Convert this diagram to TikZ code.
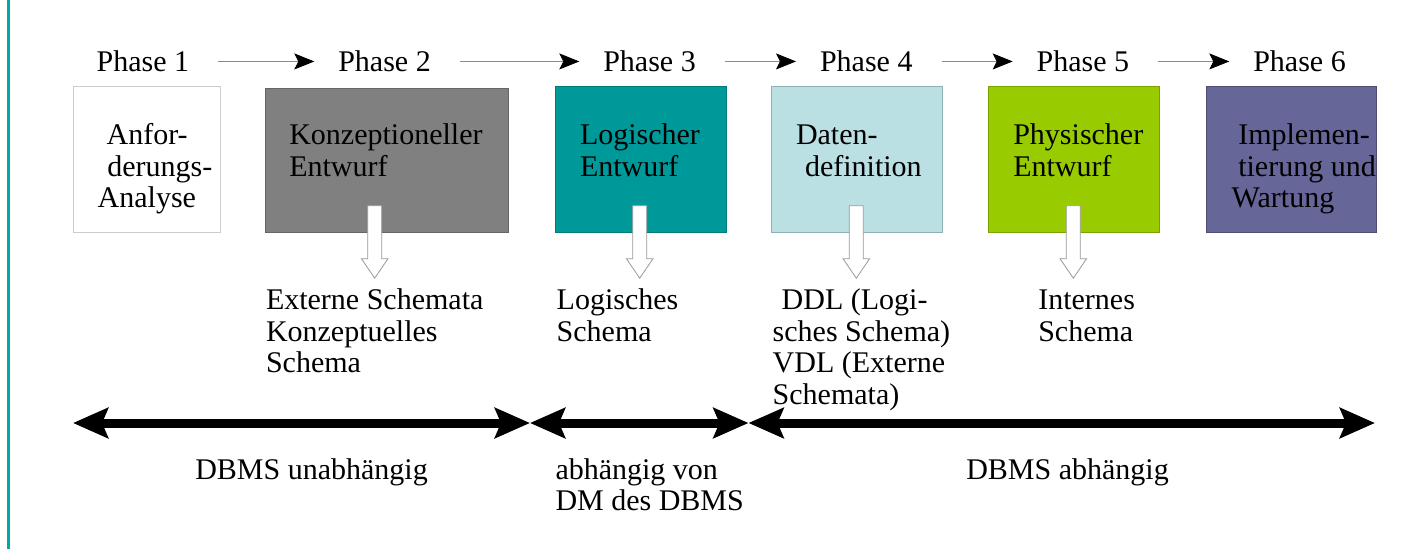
\documentclass[tikz,border=0pt]{standalone}
\usepackage{fontspec}
\setmainfont{Liberation Serif}
\usetikzlibrary{arrows.meta}
\newcommand\txtblock[1]{\begin{tabular}[t]{@{}l@{}}#1\end{tabular}}
\definecolor{tealbar}{HTML}{00A8A8}
\definecolor{fillB}{HTML}{808080}\definecolor{drawB}{HTML}{666666}
\definecolor{fillC}{HTML}{009999}\definecolor{drawC}{HTML}{007A7A}
\definecolor{fillD}{HTML}{BBE0E3}\definecolor{drawD}{HTML}{8FB0B5}
\definecolor{fillE}{HTML}{99CC00}\definecolor{drawE}{HTML}{7AA300}
\definecolor{fillF}{HTML}{666699}\definecolor{drawF}{HTML}{4D4D73}
\begin{document}
\begin{tikzpicture}[x=1pt,y=-1pt,
  every node/.style={inner sep=0pt,outer sep=0pt,font=\fontsize{30}{31.5}\selectfont},
  txt/.style={anchor=base west},
  phbox/.style={draw,line width=1pt},
  smallarrow/.style={draw=black!45,line width=0.8pt,-{Stealth[length=20pt,width=16pt,inset=4pt,black]},shorten <=29pt,shorten >=24pt},
  bigarrow/.style={line width=9pt,{Stealth[length=35pt,width=30pt,inset=6pt]}-{Stealth[length=35pt,width=30pt,inset=6pt]}},
  hollow/.style={draw=gray!80,fill=white,line width=0.8pt}]
\useasboundingbox (0,0) rectangle (1405,549);
\fill[white] (0,0) rectangle (1405,549);
\draw[tealbar,line width=3.4pt] (8.4,0) -- (8.4,549);

% boxes
\draw[phbox,draw=black!20,fill=white] (73.3,86) rectangle (220,232);
\draw[phbox,draw=drawB,fill=fillB] (265,88) rectangle (508.7,232);
\draw[phbox,draw=drawC,fill=fillC] (555,86.5) rectangle (726.7,232.5);
\draw[phbox,draw=drawD,fill=fillD] (771,86.5) rectangle (942.7,232.5);
\draw[phbox,draw=drawE,fill=fillE] (988.3,86.5) rectangle (1159.3,232.5);
\draw[phbox,draw=drawF,fill=fillF] (1206,86.5) rectangle (1376.7,232.5);

% phase labels
\node[txt] (p1) at (96.7,71.7) {Phase 1};
\node[txt] (p2) at (338.3,71.7) {Phase 2};
\node[txt] (p3) at (603.3,71.7) {Phase 3};
\node[txt] (p4) at (820,71.7) {Phase 4};
\node[txt] (p5) at (1036.7,71.7) {Phase 5};
\node[txt] (p6) at (1253.3,71.7) {Phase 6};
\draw[smallarrow] (p1.east) -- (p2.west);
\draw[smallarrow] (p2.east) -- (p3.west);
\draw[smallarrow] (p3.east) -- (p4.west);
\draw[smallarrow] (p4.east) -- (p5.west);
\draw[smallarrow] (p5.east) -- (p6.west);

% box texts
\node[txt] (t1) at (97.7,144.5) {\txtblock{\hspace*{9pt}Anfor-\\\hspace*{9.6pt}derungs-\\Analyse}};
\node[txt] (t2) at (289.3,144.5) {\txtblock{Konzeptioneller\\Entwurf}};
\node[txt] (t3) at (580,144.5) {\txtblock{Logischer\\Entwurf}};
\node[txt] (t4) at (796,144.5) {\txtblock{Daten-\\\hspace*{9pt}definition}};
\node[txt] (t5) at (1013.3,144.5) {\txtblock{Physischer\\Entwurf}};
\node[txt] (t6) at (1231.7,144.5) {\txtblock{\hspace*{6.6pt}Implemen-\\\hspace*{6.6pt}tierung und\\Wartung}};

% hollow arrows
\coordinate (a2) at (374.7,205.7);
\coordinate (a3) at (639.7,205.7);
\coordinate (a4) at (856.3,205.7);
\coordinate (a5) at (1073.3,205.7);
\foreach \c in {a2,a3,a4,a5}{
  \draw[hollow,shift={(\c)}] (-7,0) -- (7,0) -- (7,53) -- (13.3,53) -- (0,72.5) -- (-13.3,53) -- (-7,53) -- cycle;
}

% result texts
\node[txt] (r2) at (266,309.5) {\txtblock{Externe Schemata\\Konzeptuelles\\Schema}};
\node[txt] (r3) at (556.7,309.5) {\txtblock{Logisches\\Schema}};
\node[txt] (r4) at (772.7,309.5) {\txtblock{\hspace*{9pt}DDL (Logi-\\sches Schema)\\VDL (Externe\\Schemata)}};
\node[txt] (r5) at (1038.3,309.5) {\txtblock{Internes\\Schema}};

% bottom arrows
\coordinate (b0) at (73,423);
\coordinate (b1) at (530,423);
\coordinate (b2) at (748.5,423);
\coordinate (b3) at (1375,423);
\draw[bigarrow] (b0) -- (b1);
\draw[bigarrow] (b1) -- (b2);
\draw[bigarrow] (b2) -- (b3);

\node[anchor=base] (l1) at (311.5,479) {DBMS unabhängig};
\node[txt] (l2) at (555.5,479) {\txtblock{abhängig von\\DM des DBMS}};
\node[anchor=base] (l3) at (1067.5,479) {DBMS abhängig};
\end{tikzpicture}
\end{document}
